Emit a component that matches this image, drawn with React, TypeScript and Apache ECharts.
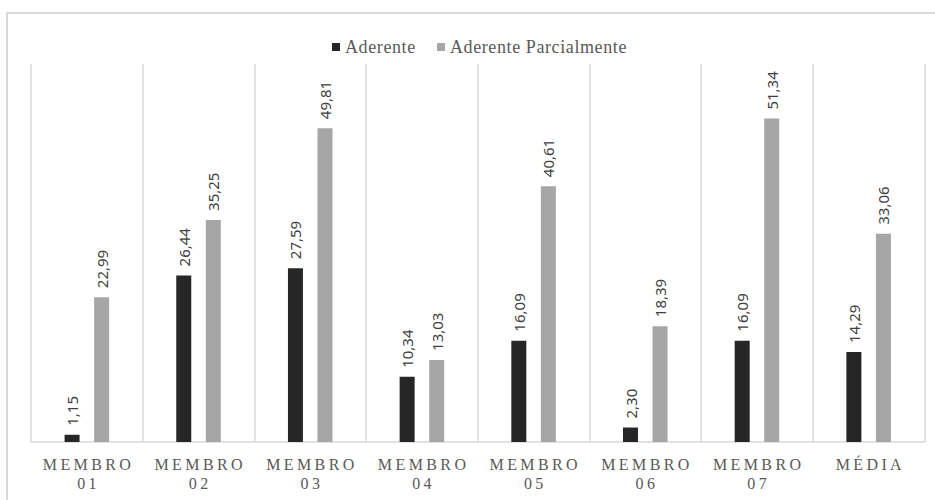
import React, { useEffect, useRef } from "react";
import * as echarts from "echarts";

const categories = ["MEMBRO\n01", "MEMBRO\n02", "MEMBRO\n03", "MEMBRO\n04", "MEMBRO\n05", "MEMBRO\n06", "MEMBRO\n07", "MÉDIA"];
const aderente = [1.15, 26.44, 27.59, 10.34, 16.09, 2.3, 16.09, 14.29];
const aderenteParcial = [22.99, 35.25, 49.81, 13.03, 40.61, 18.39, 51.34, 33.06];
const seriesNames = ["Aderente", "Aderente Parcialmente"];

const SERIF = "Liberation Serif";
const SANS = "Noto Sans";

const fmt = (v: number) => v.toFixed(2).replace(".", ",");

// Spread out the serif axis and legend lettering after each render.
function spaceLetters(root: HTMLElement) {
  const texts = root.querySelectorAll("text");
  texts.forEach((t) => {
    const s = (t.textContent || "").trim();
    if (/^(MEMBRO|0\d|MÉDIA)$/.test(s)) {
      t.setAttribute("letter-spacing", "3.4");
      t.setAttribute("dx", "1.7");
    } else if (seriesNames.includes(s)) {
      t.setAttribute("letter-spacing", "0.6");
    }
  });
}

export default function App() {
  const ref = useRef<HTMLDivElement>(null);

  useEffect(() => {
    if (!ref.current) return;
    const el = ref.current;
    const chart = echarts.init(el, null, { renderer: "svg" });

    const barLabel = {
      show: true,
      position: "top" as const,
      rotate: 90,
      align: "left" as const,
      verticalAlign: "middle" as const,
      distance: 9,
      fontFamily: SANS,
      fontSize: 15,
      color: "#404040",
      formatter: (p: any) => fmt(p.value),
    };

    chart.on("finished", () => spaceLetters(el));

    chart.setOption({
      animation: false,
      backgroundColor: "#ffffff",
      graphic: [
        {
          type: "rect",
          shape: { x: 7, y: 13, width: 940, height: 500 },
          style: { fill: "none", stroke: "#d9d9d9", lineWidth: 2 },
          silent: true,
          z: -10,
        },
      ],
      legend: {
        data: seriesNames,
        left: 327,
        top: 33,
        itemWidth: 8,
        itemHeight: 8,
        itemGap: 26,
        icon: "rect",
        textStyle: { fontFamily: SERIF, fontSize: 18, color: "#595959" },
      },
      grid: { left: 31, right: 10.5, top: 64, bottom: 58 },
      xAxis: {
        type: "category",
        data: categories,
        boundaryGap: true,
        axisLine: { show: true, lineStyle: { color: "#d9d9d9", width: 1.5 } },
        axisTick: { show: false },
        splitLine: { show: true, lineStyle: { color: "#d9d9d9", width: 1.5 } },
        axisLabel: {
          fontFamily: SERIF,
          fontSize: 16,
          color: "#595959",
          lineHeight: 19,
          margin: 13,
          interval: 0,
        },
      },
      yAxis: {
        type: "value",
        min: 0,
        max: 60,
        show: false,
        splitLine: { show: false },
      },
      series: [
        {
          name: seriesNames[0],
          type: "bar",
          data: aderente,
          barWidth: 15,
          barGap: "97%",
          itemStyle: { color: "#262626" },
          label: barLabel,
        },
        {
          name: seriesNames[1],
          type: "bar",
          data: aderenteParcial,
          barWidth: 15,
          barGap: "97%",
          itemStyle: { color: "#a6a6a6" },
          label: barLabel,
        },
      ],
    });

    spaceLetters(el);
    const timer = setTimeout(() => spaceLetters(el), 0);

    return () => {
      clearTimeout(timer);
      chart.dispose();
    };
  }, []);

  return (
    <div
      ref={ref}
      style={{ position: "absolute", left: 0, top: 0, width: 935, height: 500, background: "#fff" }}
    />
  );
}
